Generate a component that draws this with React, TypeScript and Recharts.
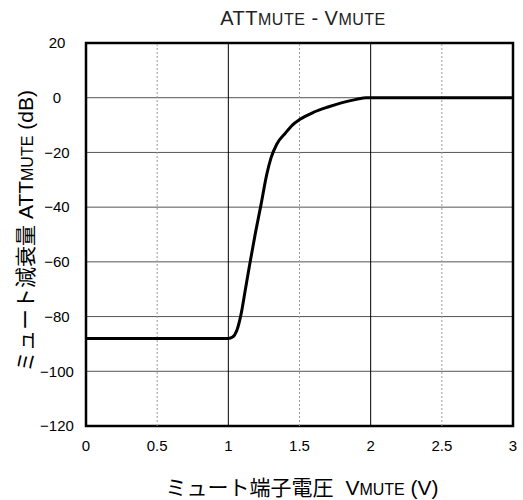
import { LineChart, Line, XAxis, YAxis, CartesianGrid, ReferenceLine, ReferenceArea } from "recharts";

const voltage = [0, 1.0, 1.03, 1.06, 1.09, 1.12, 1.15, 1.19, 1.23, 1.27, 1.3, 1.34, 1.4, 1.45, 1.5, 1.6, 1.7, 1.8, 1.9, 1.97, 2.0, 3.0];
const attenuation = [-88, -88, -87.5, -85, -79, -70, -61, -49.5, -39, -28, -22, -17, -13, -10, -8, -5.3, -3.4, -1.8, -0.6, 0, 0, 0];
const xTicks = [0, 0.5, 1, 1.5, 2, 2.5, 3];
const yTicks = [-120, -100, -80, -60, -40, -20, 0, 20];
const dottedGrid = [0.5, 1.5, 2.5];
const solidGrid = [1, 2];

const data = voltage.map((v, i) => ({ v, att: attenuation[i] }));

const FONT = "'Liberation Sans', Arial, 'Noto Sans CJK JP', sans-serif";
const fmt = (n: number) => String(n).replace("-", "\u2212");

// y tick labels are centred on a column left of the frame
const YTick = (props: any) => {
  const { x, y, payload } = props;
  return (
    <text x={x} y={y} dy="0.355em" textAnchor="middle" fontSize={15} fontFamily={FONT} fill="#000">
      {fmt(payload.value)}
    </text>
  );
};

export default function App() {
  return (
    <div style={{ position: "absolute", left: 0, top: 0, width: 523, height: 500, fontFamily: FONT }}>
      <LineChart width={523} height={500} data={data} margin={{ top: 43, right: 10, bottom: 0, left: 0 }}>
        <CartesianGrid vertical={false} stroke="#555" strokeWidth={1} />
        {dottedGrid.map((x) => (
          <ReferenceLine key={x} x={x} stroke="#999" strokeDasharray="2 2" />
        ))}
        {solidGrid.map((x) => (
          <ReferenceLine key={x} x={x} stroke="#000" />
        ))}
        <XAxis
          dataKey="v"
          type="number"
          domain={[0, 3]}
          ticks={xTicks}
          height={74}
          axisLine={false}
          tickLine={false}
          tickMargin={8}
          tick={{ fill: "#000", fontSize: 15, fontFamily: FONT }}
        />
        <YAxis
          type="number"
          domain={[-120, 20]}
          ticks={yTicks}
          width={86}
          axisLine={false}
          tickLine={false}
          tickMargin={23}
          tick={<YTick />}
        />
        <ReferenceArea x1={0} x2={3} y1={-120} y2={20} fill="none" stroke="#000" strokeWidth={2.5} />
        <Line dataKey="att" type="monotone" stroke="#000" strokeWidth={3} dot={false} isAnimationActive={false} />
      </LineChart>
      <svg width={523} height={500} style={{ position: "absolute", left: 0, top: 0, pointerEvents: "none" }}>
        <text x={303} y={25} textAnchor="middle" fontSize={20} letterSpacing={0.5} fill="#222" fontFamily={FONT}>
          ATT<tspan fontSize={16}>MUTE</tspan> - V<tspan fontSize={16}>MUTE</tspan>
        </text>
        <text x={302} y={495} textAnchor="middle" fontSize={21} fill="#000" fontFamily={FONT}>
          ミュート端子電圧<tspan dx={12}>V</tspan><tspan fontSize={16}>MUTE</tspan> (V)
        </text>
        <text
          x={0}
          y={0}
          transform="translate(33,231) rotate(-90)"
          textAnchor="middle"
          fontSize={21}
          fill="#000"
          fontFamily={FONT}
        >
          ミュート減衰量 ATT<tspan fontSize={16}>MUTE</tspan> (dB)
        </text>
      </svg>
    </div>
  );
}
